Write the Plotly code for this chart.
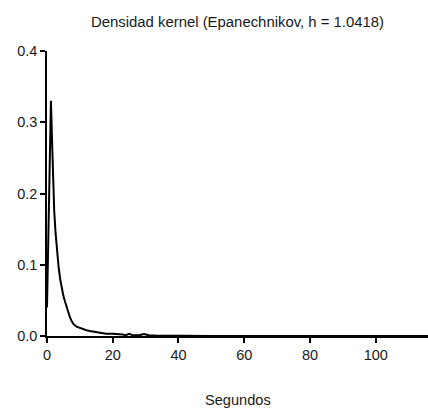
import plotly.graph_objects as go

seconds = [0, 0.3, 0.6, 0.9, 1.2, 1.5, 1.8, 2.2, 2.6, 3.0, 3.5, 4.0, 4.5, 5.0, 5.5, 6.0, 6.5, 7.0, 7.5,
           8.0, 9.0, 10.0, 11.0, 12.0, 13.0, 14.0, 15.0, 16.0, 17.0, 18.0, 20.0, 22.0, 23.0, 24.0,
           25.0, 26.0, 27.0, 28.0, 29.5, 31.0, 33.0, 36.0, 40.0, 50.0, 60.0, 80.0, 100.0, 115.9]
density = [0.04, 0.12, 0.22, 0.30, 0.33, 0.28, 0.22, 0.175, 0.145, 0.12, 0.098, 0.08, 0.066, 0.056,
           0.048, 0.040, 0.032, 0.026, 0.021, 0.017, 0.013, 0.011, 0.0095, 0.008, 0.007, 0.006,
           0.005, 0.004, 0.0035, 0.003, 0.003, 0.003, 0.002, 0.0012, 0.003, 0.0012, 0.001, 0.001,
           0.0028, 0.001, 0.0006, 0.0004, 0.0002, 0.0001, 0.0, 0.0, 0.0, 0.0]

title_text = "Densidad kernel (Epanechnikov, h = 1.0418)"
x_title = "Segundos"
x_ticks = [0, 20, 40, 60, 80, 100]
y_ticks = [0.0, 0.1, 0.2, 0.3, 0.4]
y_tick_labels = ["0.0", "0.1", "0.2", "0.3", "0.4"]

W, H = 428, 411
M_T, M_B, M_L = 51, 75, 47
plot_h = H - M_T - M_B

fig = go.Figure()
fig.add_trace(go.Scatter(x=seconds, y=density, mode="lines",
                         line=dict(color="black", width=2), hoverinfo="skip"))

font_family = "Liberation Sans, Arial, sans-serif"
fig.update_layout(
    width=W, height=H,
    margin=dict(l=M_L, r=0, t=M_T, b=M_B),
    paper_bgcolor="white", plot_bgcolor="white",
    showlegend=False,
    font=dict(family=font_family, size=14.5, color="#1a1a1a"),
    title=dict(text=title_text, x=0.5, xref="paper", xanchor="center",
               y=1 - 22 / H, yanchor="middle", yref="container",
               font=dict(size=14.9, color="#1a1a1a")),
    annotations=[dict(text=x_title, xref="paper", yref="paper", x=0.5,
                      y=-(400 - (H - M_B)) / plot_h, xanchor="center", yanchor="middle",
                      showarrow=False, font=dict(size=14.6, color="#1a1a1a"))],
)
fig.update_xaxes(
    range=[0, 115.9], tickvals=x_ticks, ticks="outside", ticklen=5, tickwidth=1.5,
    tickcolor="black", showline=True, linecolor="black", linewidth=1.5,
    showgrid=False, zeroline=False,
)
fig.update_yaxes(
    range=[0, 0.4], tickvals=y_ticks, ticktext=y_tick_labels, ticks="outside", ticklen=5,
    tickwidth=1.5, tickcolor="black", showline=True, linecolor="black", linewidth=1.5,
    showgrid=False, zeroline=False,
)
fig.write_html("out.html")
